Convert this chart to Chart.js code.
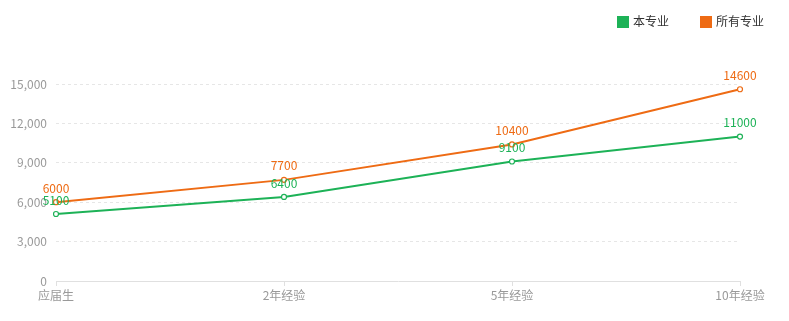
<!DOCTYPE html>
<html>
<head>
<meta charset="utf-8">
<script src="https://cdn.jsdelivr.net/npm/chart.js@4/dist/chart.umd.min.js"></script>
<style>
  html, body { margin: 0; padding: 0; background: #fff; }
  #wrap { width: 789px; height: 321px; position: relative; }
  #legend { position: absolute; top: 12px; left: 617px; font: 12px 'Noto Sans CJK SC', 'Noto Sans', sans-serif; color: #333; white-space: nowrap; }
  #legend span.item { display: inline-block; line-height: 14px; }
  #legend span.box { display: inline-block; width: 12px; height: 12px; vertical-align: -2px; margin-right: 4px; }
</style>
</head>
<body>
<div id="wrap">
  <canvas id="chart"></canvas>
  <div id="legend"></div>
</div>
<script>
const CATEGORIES = ["应届生", "2年经验", "5年经验", "10年经验"];
const MAJOR = [5100, 6400, 9100, 11000];
const ALL_MAJORS = [6000, 7700, 10400, 14600];
const Y_TICKS = [0, 3000, 6000, 9000, 12000, 15000];

const GREEN = "#1db257";
const ORANGE = "#ee6b14";
const FONT = "'Noto Sans CJK SC', 'Noto Sans', sans-serif";

// labels drawn above every point, in the line's colour
const pointLabels = {
  id: "pointLabels",
  afterDatasetsDraw(chart) {
    const ctx = chart.ctx;
    chart.data.datasets.forEach((ds, i) => {
      const meta = chart.getDatasetMeta(i);
      ctx.save();
      ctx.font = "12px " + FONT;
      ctx.fillStyle = ds.borderColor;
      ctx.textAlign = "center";
      ctx.textBaseline = "bottom";
      meta.data.forEach((pt, j) => {
        ctx.fillText(String(ds.data[j]), pt.x, pt.y - 8);
      });
      ctx.restore();
    });
  }
};

const chart = new Chart(document.getElementById("chart"), {
  type: "line",
  data: {
    labels: CATEGORIES,
    datasets: [
      {
        label: "本专业",
        data: MAJOR,
        borderColor: GREEN,
        backgroundColor: GREEN,
        borderWidth: 2,
        pointRadius: 2.5,
        pointBorderWidth: 1.2,
        pointBackgroundColor: "#fff",
        pointBorderColor: GREEN,
        tension: 0
      },
      {
        label: "所有专业",
        data: ALL_MAJORS,
        borderColor: ORANGE,
        backgroundColor: ORANGE,
        borderWidth: 2,
        pointRadius: 2.5,
        pointBorderWidth: 1.2,
        pointBackgroundColor: "#fff",
        pointBorderColor: ORANGE,
        tension: 0
      }
    ]
  },
  options: {
    responsive: true,
    maintainAspectRatio: false,
    animation: false,
    layout: { padding: { left: 0, right: 49, top: 84, bottom: 0 } },
    plugins: {
      legend: { display: false },
      tooltip: { enabled: false }
    },
    scales: {
      x: {
        offset: false,
        grid: { display: true, drawOnChartArea: false, color: "#e0e0e0", tickLength: 5 },
        border: { color: "#e0e0e0" },
        ticks: { color: "#999", font: { family: FONT, size: 12 }, padding: 2, maxRotation: 0 },
        afterFit(scale) { scale.height = 40; }
      },
      y: {
        min: 0,
        max: 15000,
        afterBuildTicks(scale) { scale.ticks = Y_TICKS.map(v => ({ value: v })); },
        grid: {
          color: ctx => ctx.tick && ctx.tick.value === 0 ? "rgba(0,0,0,0)" : "#e6e6e6",
          drawTicks: false
        },
        border: { display: false, dash: [3, 3] },
        ticks: {
          color: "#999",
          font: { family: FONT, size: 12 },
          padding: 9,
          callback: v => v.toLocaleString("en-US")
        },
        afterFit(scale) { scale.width = 56; }
      }
    }
  },
  plugins: [pointLabels]
});

// html legend, top right
const legend = document.getElementById("legend");
chart.data.datasets.forEach((ds, i) => {
  const item = document.createElement("span");
  item.className = "item";
  if (i > 0) item.style.marginLeft = "31px";
  const box = document.createElement("span");
  box.className = "box";
  box.style.background = ds.borderColor;
  item.appendChild(box);
  item.appendChild(document.createTextNode(ds.label));
  legend.appendChild(item);
});
</script>
</body>
</html>
